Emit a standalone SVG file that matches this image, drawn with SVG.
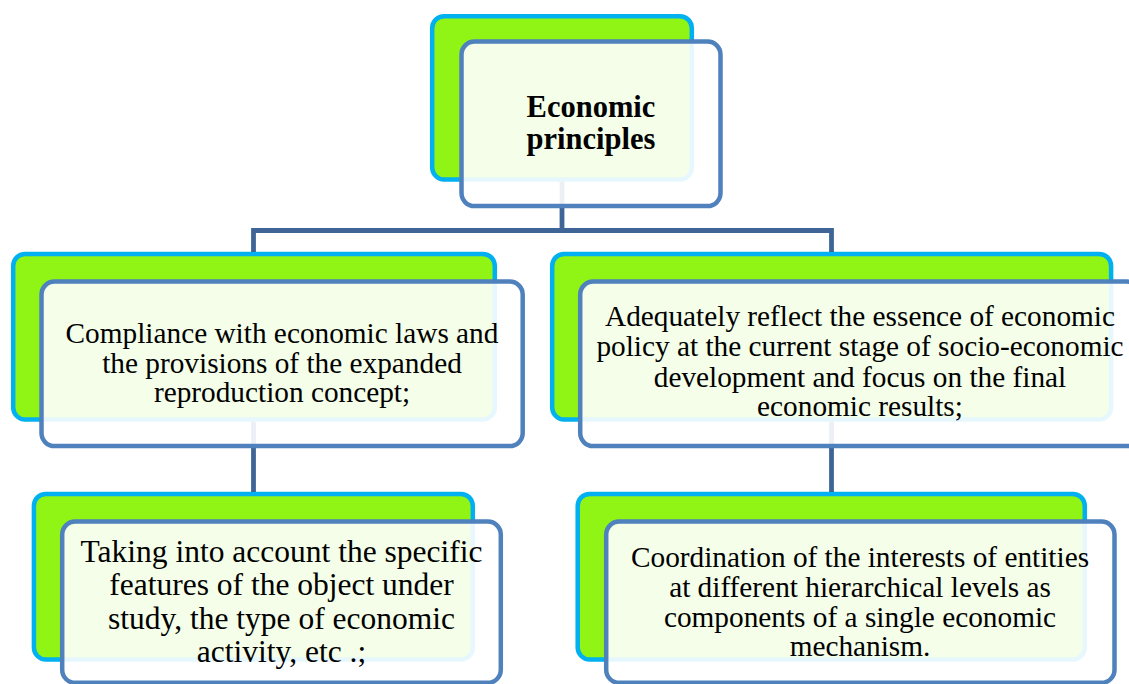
<svg xmlns="http://www.w3.org/2000/svg" width="1129" height="684" viewBox="0 0 1129 684">
<style>
.back{fill:#90f515;stroke:#00b0f0;stroke-width:4.5}
.front{fill:#ffffff;fill-opacity:0.9;stroke:#4f81bd;stroke-width:4.5}
.conn{fill:none;stroke:#3f6597;stroke-width:4.8;stroke-linejoin:miter}
.t{font-family:"Liberation Serif","Times New Roman",serif;font-size:29.3px;fill:#000;text-anchor:middle}
.tb{font-family:"Liberation Serif","Times New Roman",serif;font-size:30.5px;font-weight:bold;fill:#000;text-anchor:middle}
.tl{font-size:31.5px}
</style>
<rect width="1129" height="684" fill="#ffffff"/>
<g id="backs">
<rect class="back" x="432.2" y="16.2" width="259.6" height="163.3" rx="12"/>
<rect class="back" x="13.2" y="253.9" width="481.6" height="165.6" rx="12"/>
<rect class="back" x="552.2" y="253.9" width="558.9" height="165.6" rx="12"/>
<rect class="back" x="33.9" y="493.9" width="438.9" height="165.6" rx="12"/>
<rect class="back" x="577.7" y="493.9" width="507.1" height="165.6" rx="12"/>
</g>
<g id="connectors">
<path class="conn" d="M562,181.7 V230.5"/>
<path class="conn" d="M253.5,252 V230.5 H831.5 V252"/>
<path class="conn" d="M253.5,421.7 V492"/>
<path class="conn" d="M831.5,421.7 V492"/>
</g>
<g id="node-economic-principles">
<rect class="front" x="461.5" y="41.5" width="259" height="164.6" rx="13"/>
<text class="tb" x="591" y="116.8">Economic</text>
<text class="tb" x="591" y="148.8">principles</text>
</g>
<g id="node-compliance">
<rect class="front" x="41.5" y="281.5" width="481.2" height="164.6" rx="13"/>
<text class="t" x="282" y="343">Compliance with economic laws and</text>
<text class="t" x="282" y="372.5">the provisions of the expanded</text>
<text class="t" x="282" y="402">reproduction concept;</text>
</g>
<g id="node-adequately">
<rect class="front" x="580.2" y="281.5" width="559.6" height="164.6" rx="13"/>
<text class="t" x="860" y="326">Adequately reflect the essence of economic</text>
<text class="t" x="860" y="356">policy at the current stage of socio-economic</text>
<text class="t" x="860" y="386.5">development and focus on the final</text>
<text class="t" x="860" y="416">economic results;</text>
</g>
<g id="node-taking">
<rect class="front" x="62.2" y="521.5" width="438.6" height="161.3" rx="13"/>
<text class="t tl" x="281.5" y="562">Taking into account the specific</text>
<text class="t tl" x="281.5" y="595">features of the object under</text>
<text class="t tl" x="281.5" y="628.5">study, the type of economic</text>
<text class="t tl" x="281.5" y="661.5">activity, etc .;</text>
</g>
<g id="node-coordination">
<rect class="front" x="606.2" y="521.5" width="508.3" height="161.3" rx="13"/>
<text class="t" x="860" y="567">Coordination of the interests of entities</text>
<text class="t" x="860" y="597">at different hierarchical levels as</text>
<text class="t" x="860" y="626.5">components of a single economic</text>
<text class="t" x="860" y="656">mechanism.</text>
</g>
</svg>
